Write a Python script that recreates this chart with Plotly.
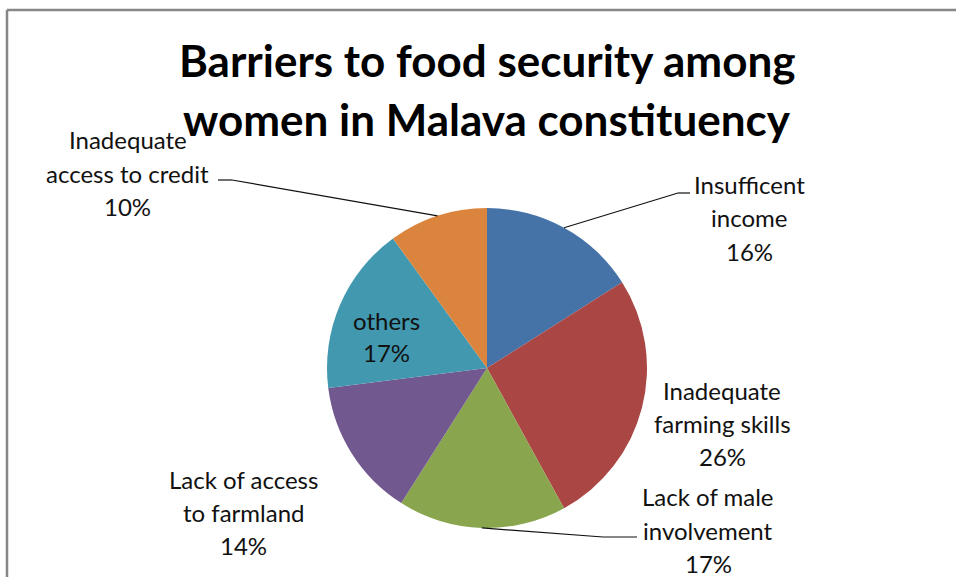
import math
import plotly.graph_objects as go

# ---- data ----
categories = ["Insufficent income", "Inadequate farming skills", "Lack of male involvement",
              "Lack of access to farmland", "others", "Inadequate access to credit"]
values = [16, 26, 17, 14, 17, 10]
label_lines = [
    ["Insufficent", "income"],
    ["Inadequate", "farming skills"],
    ["Lack of male", "involvement"],
    ["Lack of access", "to farmland"],
    ["others"],
    ["Inadequate", "access to credit"],
]
colors = ["#4572A7", "#AA4643", "#89A54E", "#71588F", "#4198AF", "#DB843D"]
title_lines = ["Barriers to food security among", "women in Malava constituency"]

# ---- layout constants (pixels) ----
W, H = 956, 577
CX, CY, R = 487, 368, 160
# label block: (center x, first line y), leader elbow (x, y), leader end x
label_pos = [
    (749, 185, (678, 193), 690),
    (722, 390, None, None),
    (708, 497, (603, 537), 637),
    (243, 479, None, None),
    (386, 320, None, None),
    (128, 140, (232, 180), 218),
]
LINE_H = 33


def px(x):
    return x / W


def py(y):
    return 1 - y / H


fig = go.Figure()
fig.add_trace(go.Pie(
    labels=categories, values=values, sort=False, direction="clockwise", rotation=0,
    marker=dict(colors=colors, line=dict(width=0)),
    textinfo="none", hoverinfo="label+percent", showlegend=False,
    domain=dict(x=[px(CX - R), px(CX + R)], y=[py(CY + R), py(CY - R)]),
))

annotations = []
shapes = []
total = sum(values)
cum = 0
for i, v in enumerate(values):
    pct = f"{round(100 * v / total)}%"
    lines = label_lines[i] + [pct]
    lx, ly, elbow, endx = label_pos[i]
    for j, t in enumerate(lines):
        annotations.append(dict(
            x=px(lx), y=py(ly + j * LINE_H), xref="paper", yref="paper",
            text=t, showarrow=False, xanchor="center", yanchor="middle",
            font=dict(family="Lato, 'Open Sans', sans-serif", size=24, color="#111111"),
        ))
    mid = (cum + v / 2) / total
    cum += v
    if elbow is not None:
        th = 2 * math.pi * mid
        ex = CX + R * math.sin(th)
        ey = CY - R * math.cos(th)
        shapes.append(dict(type="line", xref="paper", yref="paper",
                           x0=px(ex), y0=py(ey), x1=px(elbow[0]), y1=py(elbow[1]),
                           line=dict(color="#111111", width=1.2)))
        shapes.append(dict(type="line", xref="paper", yref="paper",
                           x0=px(elbow[0]), y0=py(elbow[1]), x1=px(endx), y1=py(elbow[1]),
                           line=dict(color="#111111", width=1.2)))

for j, t in enumerate(title_lines):
    annotations.append(dict(
        x=px(487), y=py(60 + j * 59), xref="paper", yref="paper",
        text=f"<b>{t}</b>", showarrow=False, xanchor="center", yanchor="middle",
        font=dict(family="Lato, 'Open Sans', sans-serif", size=44, color="#000000"),
    ))

# chart-area border (top and left visible)
shapes.append(dict(type="line", xref="paper", yref="paper", x0=px(7), y0=py(10), x1=px(W + 5), y1=py(10),
                   line=dict(color="#878787", width=2.5)))
shapes.append(dict(type="line", xref="paper", yref="paper", x0=px(7), y0=py(10), x1=px(7), y1=py(H + 5),
                   line=dict(color="#878787", width=2.5)))

fig.update_layout(
    width=W, height=H, margin=dict(l=0, r=0, t=0, b=0),
    paper_bgcolor="white", plot_bgcolor="white",
    annotations=annotations, shapes=shapes,
)
fig.write_html("out.html", config={"displayModeBar": False},
               post_script="document.body.style.margin='0';document.body.style.overflow='hidden';")
